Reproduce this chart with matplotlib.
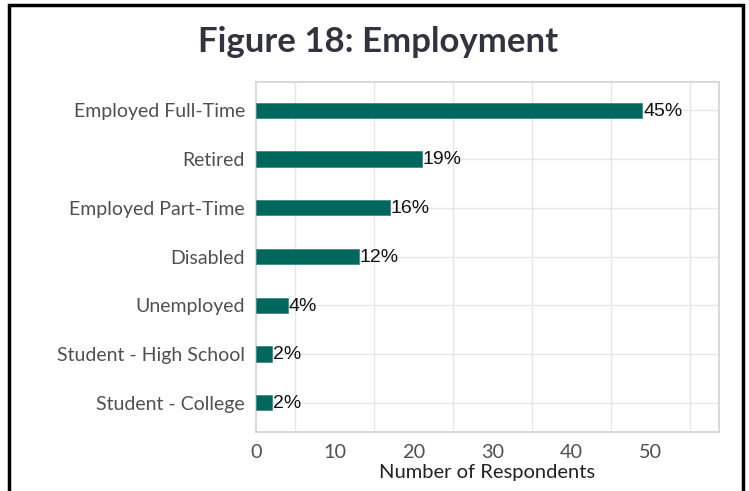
import matplotlib.pyplot as plt
from matplotlib.patches import Rectangle
import numpy as np

# employment status, counts of respondents
categories = ['Employed Full-Time', 'Retired', 'Employed Part-Time', 'Disabled',
              'Unemployed', 'Student - High School', 'Student - College']
counts = [49, 21, 17, 13, 4, 2, 2]
xticks = [0, 10, 20, 30, 40, 50]

total = sum(counts)
pct = [100.0 * c / total for c in counts]

bar_color = '#00675f'
grid_color = '#e6e6e6'

fig = plt.figure(figsize=(7.49, 4.91), dpi=100)
ax = fig.add_axes([256/749, 1-432/491, (719-256)/749, (432-82)/491])

y = np.arange(len(categories))[::-1]
ax.barh(y, counts, height=0.31, color=bar_color, edgecolor='#3f8c86', linewidth=0.6, zorder=3)
for yi, c, p in zip(y, counts, pct):
    ax.text(c + 0.1, yi - 0.02, '%d%%' % round(p), va='center', ha='left',
            fontsize=14, family='Liberation Sans', color='#111111', zorder=4)

ax.set_xlim(0, 58.7)
ax.set_ylim(-0.6, len(categories) - 0.42)
ax.set_yticks(y)
ax.set_yticklabels(categories, family='Lato', fontsize=14, color='#505050')
ax.set_xticks(xticks)
ax.set_xticklabels([str(t) for t in xticks], family='Lato', fontsize=14.3, color='#505050')
ax.tick_params(length=0, pad=8)
ax.tick_params(axis='x', pad=9)

# grid sits between the labelled ticks
for gx in np.arange(5, 58, 10):
    ax.axvline(gx, color=grid_color, linewidth=1, zorder=1)
for yi in y:
    ax.axhline(yi, color=grid_color, linewidth=1, zorder=1)
for s in ax.spines.values():
    s.set_color('#d2d2d2')
    s.set_linewidth(1.2)

ax.set_xlabel('Number of Respondents', family='Lato', fontsize=14.5, color='#222222', labelpad=2)
fig.text(0.505, 0.915, 'Figure 18: Employment', ha='center', va='center',
         family='Lato', fontweight='bold', fontsize=25, color='#33323f')

# black frame around the whole figure
fig.add_artist(Rectangle((9/749, -0.1), (743-9)/749, 1.1 - 5/491, transform=fig.transFigure,
                         fill=False, edgecolor='black', linewidth=2.5))

plt.savefig('out.png', dpi=100)
